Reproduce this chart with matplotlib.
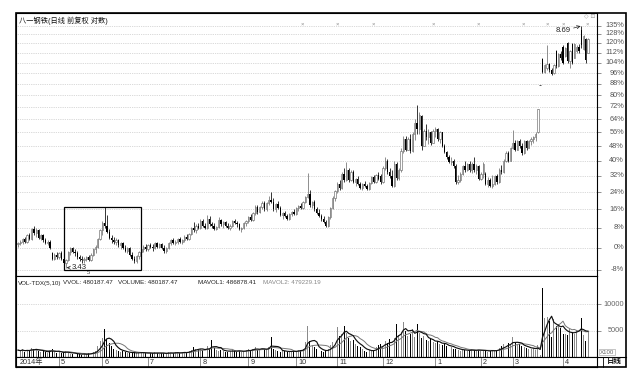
import matplotlib
matplotlib.use("Agg")
import matplotlib.pyplot as plt
import matplotlib.transforms as mtransforms
from matplotlib.patches import Rectangle
from matplotlib.ticker import NullLocator
import numpy as np
import pandas as pd

plt.rcParams['font.family'] = ['Liberation Sans', 'Noto Sans CJK SC', 'DejaVu Sans']

# ---------------- data ----------------
title = "八一钢铁(日线 前复权 对数)"
pct_ticks = [-8, 0, 8, 16, 24, 32, 40, 48, 56, 64, 72, 80, 88, 96, 104, 112, 120, 128, 135]
vol_ticks = [5000, 10000]
vol_tick_labels = ["5000", "10000"]
month_labels = ["2014年", "5", "6", "7", "8", "9", "10", "11", "12", "1", "2", "3", "4"]
month_pos = [0, 18, 37, 57, 80, 101, 122, 140, 160, 183, 203, 217, 239]
low_label = "3.43"
high_label = "8.69"
info_marks = [124.6, 139.9, 155.7, 182, 201.8, 221.5, 232, 239, 249.6]
vol_header = [("VOL-TDX(5,10)", 18, "#222"), ("VVOL: 480187.47", 63, "#222"),
              ("VOLUME: 480187.47", 118, "#222"), ("MAVOL1: 486878.41", 198, "#222"),
              ("MAVOL2: 479229.19", 263, "#888")]

# price change in % relative to the base (open, high, low, close)
opens = [1.5, 2.0, 2.5, 3.5, 2.5, 5.0, 3.5, 7.5, 6.0, 7.0,
         4.0, 5.0, 3.0, 2.0, 2.5, -2.0, -4.0, -2.5, -3.5, -2.0,
         -4.0, -5.5, -4.5, -1.5, 0.0, -1.5, -2.0, -3.5, -4.0, -4.5,
         -4.0, -3.5, -4.5, -2.5, -0.5, 0.5, 3.5, 7.0, 10.0, 9.0,
         6.5, 4.0, 3.0, 2.5, 3.0, 1.0, 2.0, 0.0, -1.0, 0.0,
         -2.5, -4.0, -5.0, -3.0, -1.5, -0.5, 0.5, -0.5, 1.0, 0.5,
         0.0, 2.0, 0.5, 1.5, 0.0, -1.0, 0.0, 2.0, 3.0, 2.0,
         2.5, 3.5, 2.5, 3.0, 4.5, 3.5, 5.5, 8.0, 7.0, 9.0,
         8.0, 11.0, 9.0, 8.0, 12.0, 9.5, 9.0, 7.5, 8.5, 11.5,
         9.5, 10.5, 9.0, 8.0, 9.0, 11.0, 10.0, 9.5, 7.5, 8.0,
         10.0, 11.0, 12.5, 11.5, 14.5, 17.0, 15.0, 17.0, 19.0, 16.0,
         19.0, 20.5, 19.5, 16.0, 18.5, 16.5, 13.5, 14.5, 13.0, 12.0,
         14.0, 15.0, 14.0, 16.5, 17.5, 16.5, 19.5, 21.5, 23.0, 18.0,
         19.5, 16.0, 14.5, 13.0, 12.0, 10.5, 9.0, 12.5, 16.5, 21.0,
         24.5, 28.0, 26.0, 33.0, 30.0, 35.0, 30.0, 34.0, 29.0, 30.5,
         28.0, 26.0, 28.0, 27.0, 25.5, 28.5, 31.5, 29.0, 32.5, 32.0,
         29, 36, 40, 34, 32, 27, 38, 31, 35, 45,
         52, 46, 52, 45, 55, 62, 58, 66, 48, 57,
         53, 56, 50, 57, 58, 52, 56, 48, 44.5, 42,
         39, 40, 37, 29, 30, 33, 37, 35, 38, 35,
         38, 35, 37, 30.5, 33, 33, 28, 30, 27, 28,
         32, 29, 35, 34, 40, 44, 40, 47, 50, 46,
         51, 48, 44, 51, 47, 51, 52, 53, 56, 87.5,
         107, 97, 100, 103, 98, 96, 113, 101, 111, 117,
         109, 120, 105, 119, 108, 113, 117, 131, 115, 123, 112]
highs = [2.5, 3.0, 4.0, 4.5, 5.5, 6.0, 8.0, 9.0, 8.0, 7.5,
         5.5, 5.5, 4.0, 3.0, 3.0, -1.5, -2.0, -1.5, -1.5, -1.0,
         -3.0, -4.0, -1.0, 0.5, 0.5, -0.5, -1.0, -2.5, -3.0, -3.5,
         -3.0, -2.5, -2.0, 0.0, 1.0, 4.0, 7.5, 11.0, 17.0, 13.5,
         7.5, 5.0, 4.5, 4.0, 3.5, 2.5, 2.5, 1.0, 0.5, 0.5,
         -1.5, -3.0, -2.5, -1.0, 0.0, 1.0, 1.5, 1.5, 2.0, 1.5,
         2.5, 2.5, 2.0, 2.0, 1.0, 0.5, 2.5, 3.5, 4.0, 3.0,
         4.0, 4.5, 3.5, 5.0, 5.5, 6.0, 8.5, 10.5, 9.5, 10.0,
         12.0, 12.0, 10.0, 13.5, 13.0, 10.5, 10.0, 9.0, 12.5, 12.0,
         11.0, 11.0, 10.0, 9.5, 11.5, 12.0, 11.0, 10.0, 8.5, 10.5,
         11.5, 13.0, 14.0, 15.0, 18.0, 18.0, 17.5, 20.0, 20.0, 19.5,
         22.0, 24.0, 21.0, 19.0, 20.0, 17.5, 15.0, 15.5, 14.0, 14.5,
         15.5, 16.0, 17.0, 18.0, 19.0, 20.0, 22.0, 33.5, 25.0, 20.0,
         20.5, 17.0, 16.0, 14.0, 13.0, 11.5, 13.0, 17.0, 22.0, 25.0,
         29.0, 30.0, 34.0, 36.0, 39.0, 36.0, 35.0, 35.0, 31.0, 32.0,
         29.0, 28.5, 29.5, 28.0, 29.0, 32.0, 32.5, 33.0, 34.0, 33.0,
         37, 42, 41, 36, 35, 40, 39, 36, 47, 54,
         54, 53, 55, 56, 64, 73.5, 69, 67, 58, 61,
         58, 57, 58, 59, 58.5, 57, 56.5, 49, 45, 43,
         42, 41, 38, 32.5, 34, 37.5, 40, 38.5, 40, 39,
         42, 38, 37.5, 34, 39, 34, 31.5, 31, 32.5, 32.5,
         33, 36, 37.5, 41, 45, 45, 47.5, 57.5, 51.5, 51.5,
         52, 50, 51.5, 51.5, 51.5, 53, 54, 56, 71, 87.5,
         108, 103, 118, 104, 100, 103, 114, 112, 113, 118,
         116.6, 121, 114, 120, 120, 118, 119, 134.9, 127, 124, 124]
lows = [0.5, 1.0, 1.5, 2.0, 2.0, 3.0, 3.0, 5.0, 4.5, 3.5,
        3.0, 2.5, 1.5, 1.0, -0.5, -4.5, -4.5, -4.0, -4.0, -4.5,
        -6.0, -7.3, -5.0, -2.5, -2.0, -3.0, -4.0, -5.0, -5.5, -5.5,
        -5.0, -5.0, -5.0, -3.0, -2.0, 0.0, 3.0, 5.0, 8.0, 6.0,
        3.5, 2.0, 1.5, 1.0, 0.5, -0.5, -0.5, -1.5, -2.0, -3.0,
        -4.5, -5.5, -5.5, -4.0, -2.5, -1.5, -1.0, -1.0, 0.0, -1.0,
        -0.5, 0.0, 0.0, -0.5, -2.0, -2.0, -0.5, 1.0, 1.5, 1.0,
        1.5, 2.0, 1.5, 2.5, 3.0, 3.0, 5.0, 6.5, 6.0, 7.5,
        7.5, 8.5, 7.5, 7.5, 9.0, 8.0, 7.0, 7.0, 8.0, 9.0,
        8.0, 8.5, 7.5, 7.0, 8.5, 9.5, 8.5, 7.0, 6.5, 7.5,
        9.0, 10.0, 11.0, 11.0, 13.5, 14.0, 14.5, 16.0, 15.5, 15.5,
        18.0, 19.0, 15.5, 15.0, 16.0, 13.0, 12.0, 12.5, 11.5, 11.5,
        13.0, 13.5, 13.5, 15.5, 16.0, 16.0, 19.0, 21.0, 17.0, 16.5,
        15.5, 14.0, 12.5, 11.0, 10.0, 8.5, 8.5, 12.0, 16.0, 20.0,
        23.5, 25.0, 25.5, 29.0, 29.5, 29.0, 29.5, 28.5, 27.0, 27.5,
        25.5, 25.0, 26.5, 25.0, 25.0, 28.0, 28.5, 28.5, 30.0, 28.0,
        28.5, 35, 33, 31, 26.5, 26.5, 30, 30, 34, 44,
        45, 45.5, 44, 44.5, 51.5, 55, 55, 46, 48, 51.5,
        49, 48.5, 50, 53, 51, 50, 47.5, 44, 41, 38.5,
        37.5, 36, 28, 28, 29, 32.5, 34, 34.5, 34, 33.5,
        34, 33, 30, 30, 31, 27.5, 26.5, 26.5, 26, 27.5,
        28, 28.5, 33, 33.5, 39, 39, 40, 46.5, 45, 45.5,
        47, 43, 43.5, 46, 47, 48.5, 50, 51, 55.5, 87.5,
        96, 96, 98.5, 97, 94.6, 95.5, 100, 100.5, 106, 103,
        108.6, 104, 100, 103, 108, 112, 112, 116, 114, 104, 112]
closes = [2.0, 2.5, 3.5, 2.5, 5.0, 3.5, 7.5, 6.0, 7.0, 4.0,
          5.0, 3.0, 2.0, 2.5, 0.0, -4.0, -2.5, -3.5, -2.0, -4.0,
          -5.5, -4.5, -1.5, 0.0, -1.5, -2.0, -3.5, -4.0, -4.5, -4.0,
          -3.5, -4.5, -2.5, -0.5, 0.5, 3.5, 7.0, 10.0, 9.0, 6.5,
          4.0, 3.0, 2.5, 3.0, 1.0, 2.0, 0.0, -1.0, 0.0, -2.5,
          -4.0, -5.0, -3.0, -1.5, -0.5, 0.5, -0.5, 1.0, 0.5, 0.0,
          2.0, 0.5, 1.5, 0.0, -1.0, 0.0, 2.0, 3.0, 2.0, 2.5,
          3.5, 2.5, 3.0, 4.5, 3.5, 5.5, 8.0, 7.0, 9.0, 8.0,
          11.0, 9.0, 8.0, 12.0, 9.5, 9.0, 7.5, 8.5, 11.5, 9.5,
          10.5, 9.0, 8.0, 9.0, 11.0, 10.0, 9.5, 7.5, 8.0, 10.0,
          11.0, 12.5, 11.5, 14.5, 17.0, 15.0, 17.0, 19.0, 16.0, 19.0,
          20.5, 19.5, 16.0, 18.5, 16.5, 13.5, 14.5, 13.0, 12.0, 14.0,
          15.0, 14.0, 16.5, 17.5, 16.5, 19.5, 21.5, 23.0, 18.0, 19.5,
          16.0, 14.5, 13.0, 12.0, 10.5, 9.0, 12.5, 16.5, 21.0, 24.5,
          28.0, 26.0, 33.0, 30.0, 35.0, 30.0, 34.0, 29.0, 30.5, 28.0,
          26.0, 28.0, 27.0, 25.5, 28.5, 31.5, 29.0, 32.5, 30.5, 29.0,
          36, 40, 34, 32, 27, 38, 31, 35, 45, 52,
          46, 52, 45, 55, 62, 58, 67, 48, 57, 53,
          56, 50, 57, 58, 52, 56, 48, 44.5, 42, 39,
          40, 37, 29, 30, 33, 37, 35, 38, 35, 38,
          35, 37, 30.5, 33, 38, 28, 30, 27, 28, 32,
          29, 35, 34, 40, 44, 40, 47, 50, 46, 51,
          48, 44, 51, 47, 51, 52, 53, 55, 70.5, 87.5,
          97, 102, 103, 98, 95.5, 102.5, 101, 111, 108, 104,
          116, 105, 113, 104, 119, 117, 113, 118, 126, 106, 123]
# volume in units of 100 shares
volumes = [1300, 1100, 1500, 900, 1400, 1200, 1700, 1600, 1300, 1100,
           1000, 1200, 900, 800, 1300, 1500, 900, 800, 1000, 700,
           900, 1100, 800, 600, 500, 700, 600, 500, 400, 600,
           500, 700, 800, 900, 1200, 2000, 3000, 3600, 5200, 3400,
           2600, 2000, 1600, 1400, 1200, 1000, 1100, 900, 800, 700,
           800, 900, 700, 800, 900, 800, 700, 600, 800, 700,
           900, 700, 600, 800, 700, 600, 900, 800, 700, 900,
           800, 700, 900, 1000, 800, 1100, 1400, 1800, 1500, 1300,
           1600, 1400, 1200, 2000, 1500, 3300, 1700, 1300, 1200, 1400,
           1100, 1000, 900, 1200, 1300, 1100, 1000, 1200, 1000, 1100,
           1300, 1500, 1200, 1600, 1800, 1400, 1300, 1700, 1500, 1400,
           1900, 3800, 1600, 1300, 1200, 1000, 1100, 1200, 900, 1000,
           1100, 1200, 1000, 1300, 1400, 1500, 2800, 5800, 3000, 2200,
           1800, 1500, 1300, 1200, 1000, 1100, 1600, 2300, 2800, 3500,
           5600, 4000, 4400, 5800, 4500, 3600, 3000, 3200, 2500, 2000,
           1800, 1500, 1200, 1000, 1300, 1100, 1400, 1800, 2200, 2500,
           2000, 3000, 2600, 3400, 2800, 3600, 6150, 4200, 4800, 6700,
           5000, 4000, 4400, 5200, 3800, 6150, 4500, 3600, 4000, 3300,
           3000, 3400, 2800, 2600, 3100, 2400, 2200, 2600, 2000, 1800,
           1900, 1600, 1500, 1300, 1200, 1400, 1300, 1100, 1200, 1500,
           1300, 1200, 1400, 1100, 1300, 1200, 1000, 1100, 1400, 1200,
           1300, 1700, 2000, 2400, 2200, 2700, 2500, 3800, 2600, 2300,
           2400, 2000, 1900, 1700, 1600, 1500, 1700, 1400, 2200, 300,
           13000, 7400, 7600, 6800, 3700, 7200, 5900, 6300, 5400, 4400,
           4400, 4100, 5300, 4800, 4300, 5079, 5000, 7400, 4100, 3042, 4802]

# ---------------- layout ----------------
W, H = 640, 378
fig = plt.figure(figsize=(6.4, 3.78), dpi=100)
fig.patch.set_facecolor('white')


def fx(px):
    return px / W


def fy(py):
    return 1 - py / H


LEFT, RIGHT, TOP, MAINB, VOLB, DATEB, FRAMER = 16, 597, 13, 276, 357, 367, 626
ax = fig.add_axes([fx(LEFT), fy(MAINB), fx(RIGHT) - fx(LEFT), fy(TOP) - fy(MAINB)])
axv = fig.add_axes([fx(LEFT), fy(VOLB), fx(RIGHT) - fx(LEFT), fy(MAINB) - fy(VOLB)])
axd = fig.add_axes([fx(LEFT), fy(DATEB), fx(RIGHT) - fx(LEFT), fy(VOLB) - fy(DATEB)])

o = 1 + np.array(opens) / 100
h = 1 + np.array(highs) / 100
l = 1 + np.array(lows) / 100
c = 1 + np.array(closes) / 100
vol = np.array(volumes, dtype=float)
N = len(c)
x = np.arange(N)
up = c > o
dn = c < o
flat = c == o

XL = (-0.88, 253.9)

# ---------------- main candle panel ----------------
ax.set_yscale('log')
ax.set_xlim(*XL)
ax.set_ylim(0.8979, 2.469)
for t in pct_ticks:
    ax.axhline(1 + t / 100, color='#b5b5b5', lw=0.5, ls=(0, (1, 1.6)), zorder=1)

wick_cols = ['black' if d else '#707070' for d in dn]
ax.vlines(x, l, h, colors=wick_cols, linewidth=0.55, zorder=2)
ax.bar(x[up], (c - o)[up], bottom=o[up], width=0.56, facecolor='white',
       edgecolor='#6a6a6a', linewidth=0.45, zorder=3)
ax.bar(x[dn], (o - c)[dn], bottom=c[dn], width=0.56, color='black',
       linewidth=0, zorder=3)
for xi in x[flat]:
    ax.hlines(c[xi], xi - 0.5, xi + 0.5, color='#555555', lw=0.7, zorder=3)

ax.set_xticks([])
ax.yaxis.set_minor_locator(NullLocator())
ax.set_yticks([1 + t / 100 for t in pct_ticks])
ax.set_yticklabels([])
ax.yaxis.tick_right()
ax.tick_params(axis='y', which='major', length=3, width=0.5, color='#666666')
blend = mtransforms.blended_transform_factory(ax.transAxes, ax.transData)
for t in pct_ticks:
    ax.text(1.0465, 1 + t / 100, f"{t}%", transform=blend, ha='right',
            va='center', fontsize=5.3, color='#555555')

# highlight box
ax.add_patch(Rectangle((20.2, 0.919), 53.9 - 20.2, 1.171 - 0.919, fill=False,
                       lw=0.9, ec='black', zorder=5))
# low / high annotations
ilo = int(np.argmin(l))
ihi = int(np.argmax(h))
ax.annotate(low_label, xy=(ilo, l[ilo]), xytext=(4.5, 0), textcoords='offset points',
            ha='left', va='center', fontsize=5.6, color='#222',
            arrowprops=dict(arrowstyle='->', lw=0.5, color='#222',
                            shrinkA=0, shrinkB=0.5))
ax.annotate(high_label, xy=(ihi, h[ihi]), xytext=(-7.5, -3.5), textcoords='offset points',
            ha='right', va='center', fontsize=5.6, color='#222',
            arrowprops=dict(arrowstyle='->', lw=0.5, color='#222',
                            shrinkA=0, shrinkB=0.5))
ax.text(30.7, 0.005, "5", transform=mtransforms.blended_transform_factory(ax.transData, ax.transAxes),
        ha='center', va='bottom', fontsize=4.2, color='#444')
mark_tr = mtransforms.blended_transform_factory(ax.transData, ax.transAxes)
for m in info_marks:
    ax.text(m, 0.958, "×", transform=mark_tr, ha='center', va='center',
            fontsize=4.2, color='#888888')
ax.text(0.006, 0.985, title, transform=ax.transAxes, ha='left', va='top',
        fontsize=5.2, color='#111')
fig.text(fx(590), fy(16.5), "◇ ⊡", ha='center', va='center', fontsize=4.2,
         color='#999999', family=['DejaVu Sans'])

# ---------------- volume panel ----------------
axv.set_xlim(*XL)
axv.set_ylim(0, 15300)
for v in vol_ticks:
    axv.axhline(v, color='#b5b5b5', lw=0.5, ls=(0, (1, 1.6)), zorder=1)
vcols = ['black' if d else '#8a8a8a' for d in dn]
axv.bar(x, vol, width=0.42, color=vcols, linewidth=0, zorder=2)
vs = pd.Series(vol)
ma5 = vs.rolling(5, min_periods=1).mean()
ma10 = vs.rolling(10, min_periods=1).mean()
axv.plot(x, ma10, color='#777777', lw=0.7, zorder=3)
axv.plot(x, ma5, color='#111111', lw=0.85, zorder=4)
axv.set_xticks([])
axv.set_yticks(vol_ticks)
axv.set_yticklabels([])
axv.yaxis.tick_right()
axv.tick_params(axis='y', length=3, width=0.5, color='#666666')
vblend = mtransforms.blended_transform_factory(axv.transAxes, axv.transData)
for v, lab in zip(vol_ticks, vol_tick_labels):
    axv.text(1.0465, v, lab, transform=vblend, ha='right', va='center',
             fontsize=5.3, color='#666666')
for txt, px, col in vol_header:
    fig.text(fx(px), fy(283), txt, ha='left', va='center', fontsize=4.5, color=col)
fig.text(fx(607), fy(352), "X100", ha='center', va='center', fontsize=4.4,
         color='#666666',
         bbox=dict(boxstyle='square,pad=0.15', fc='white', ec='#999999', lw=0.4))

# ---------------- date row ----------------
axd.set_xlim(*XL)
axd.set_ylim(0, 1)
axd.set_xticks([])
axd.set_yticks([])
for p, lab in zip(month_pos, month_labels):
    if p > 0:
        axd.plot([p, p], [0.1, 0.9], color='#666666', lw=0.5)
    axd.text(p + 0.9, 0.5, lab, ha='left', va='center', fontsize=5.2, color='#333')
fig.text(fx(614), fy(362), "日线", ha='center', va='center', fontsize=5.4,
         color='#111', fontweight='bold')

for a in (ax, axv, axd):
    for s in a.spines.values():
        s.set_linewidth(0.8)
        s.set_color('black')

# extra frame lines
fig.add_artist(plt.Line2D([fx(RIGHT), fx(FRAMER)], [fy(VOLB), fy(VOLB)],
                          transform=fig.transFigure, color='black', lw=0.8))
fig.add_artist(plt.Line2D([fx(603), fx(603)], [fy(VOLB), fy(DATEB)],
                          transform=fig.transFigure, color='black', lw=0.6))
fig.add_artist(Rectangle((fx(LEFT), fy(DATEB)), fx(FRAMER) - fx(LEFT), fy(TOP) - fy(DATEB),
                         transform=fig.transFigure, fill=False, lw=1.2, ec='black'))

fig.savefig("out.png", dpi=100, facecolor='white')
